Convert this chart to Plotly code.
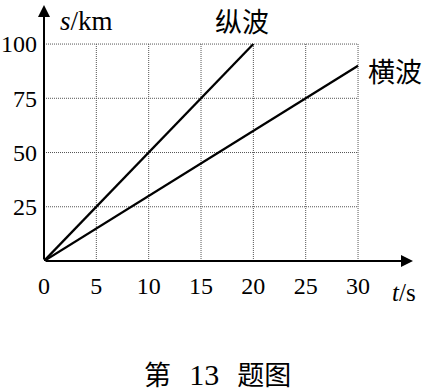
import plotly.graph_objects as go

# data
t_long = [0, 20]
s_long = [0, 100]
t_trans = [0, 30]
s_trans = [0, 90]
x_ticks = [0, 5, 10, 15, 20, 25, 30]
y_ticks = [25, 50, 75, 100]

serif = "Liberation Serif, Times New Roman, serif"
cjk = "Noto Sans CJK SC"

fig = go.Figure()
fig.add_trace(go.Scatter(x=t_long, y=s_long, mode="lines",
                         line=dict(color="black", width=2.3), showlegend=False))
fig.add_trace(go.Scatter(x=t_trans, y=s_trans, mode="lines",
                         line=dict(color="black", width=2.3), showlegend=False))

shapes = []
for xv in x_ticks[1:]:
    shapes.append(dict(type="line", x0=xv, x1=xv, y0=0, y1=max(y_ticks),
                       xref="x", yref="y", line=dict(color="#555", width=1, dash="1px,1px"), layer="below"))
for yv in y_ticks:
    shapes.append(dict(type="line", x0=0, x1=max(x_ticks), y0=yv, y1=yv,
                       xref="x", yref="y", line=dict(color="#555", width=1, dash="1px,1px"), layer="below"))

W, H = 427, 392
L, R, T, B = 44, 14, 5, 131
pw, ph = W - L - R, H - T - B

def px(xp, yp):
    return (xp - L) / pw, 1 - (yp - T) / ph

annotations = [
    dict(x=35.25, y=0, ax=0, ay=0, xref="x", yref="y", axref="x", ayref="y",
         showarrow=True, arrowhead=2, arrowsize=1.2, arrowwidth=2, arrowcolor="black", text=""),
    dict(x=0, y=118, ax=0, ay=0, xref="x", yref="y", axref="x", ayref="y",
         showarrow=True, arrowhead=2, arrowsize=1.2, arrowwidth=2, arrowcolor="black", text=""),
]

def lab(xp, yp, text, family, size, xanchor="left"):
    x, y = px(xp, yp)
    annotations.append(dict(x=x, y=y, xref="paper", yref="paper", text=text, showarrow=False,
                            font=dict(family=family, size=size, color="black"),
                            xanchor=xanchor, yanchor="middle"))

lab(58, 21, "<i>s</i>/km", serif, 27)
lab(390, 292, "<i>t</i>/s", serif, 25)
lab(242, 20, "纵波", cjk, 27, "center")
lab(395, 70, "横波", cjk, 27, "center")
lab(217, 373,
    "第&nbsp;&nbsp;&nbsp;<span style='font-family:Liberation Serif;font-size:30px'>13</span>&nbsp;&nbsp;&nbsp;题图",
    cjk, 27, "center")

fig.update_layout(
    width=W, height=H,
    margin=dict(l=L, r=R, t=T, b=B),
    paper_bgcolor="white", plot_bgcolor="white",
    shapes=shapes, annotations=annotations,
    xaxis=dict(range=[0, 35.25], tickvals=x_ticks, showgrid=False, zeroline=False,
               showline=False, ticks="", ticklabelstandoff=8, automargin=False,
               tickfont=dict(family=serif, size=24, color="black")),
    yaxis=dict(range=[0, 118], tickvals=y_ticks, showgrid=False, zeroline=False,
               showline=False, ticks="", ticklabelstandoff=6, automargin=False,
               tickfont=dict(family=serif, size=24, color="black")),
)
fig.write_html("out.html")
